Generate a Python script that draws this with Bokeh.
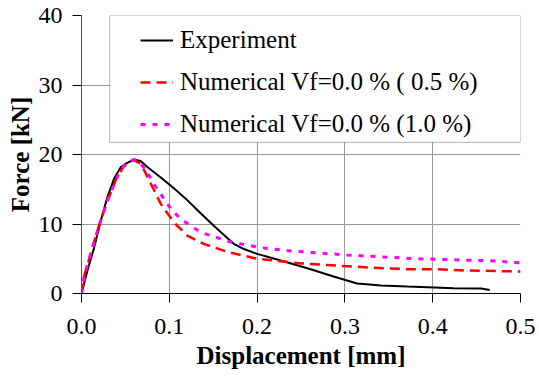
from bokeh.plotting import figure
from bokeh.models import Range1d, FixedTicker, PrintfTickFormatter, BoxAnnotation
from bokeh.embed import file_html
from bokeh.resources import INLINE

# Data
exp_x = [0, 0.0068, 0.0144, 0.022, 0.0296, 0.037, 0.0448, 0.052, 0.06, 0.0675, 0.075,
         0.0903, 0.1055, 0.1207, 0.136, 0.151, 0.166, 0.174, 0.185, 0.2, 0.231, 0.261,
         0.288, 0.314, 0.341, 0.371, 0.402, 0.424, 0.455, 0.465]
exp_f = [0, 3.3, 6.6, 10.5, 13.9, 16.5, 18.2, 18.8, 19.25, 19.05, 18.2,
         16.7, 15.1, 13.4, 11.5, 9.7, 8.0, 7.1, 6.4, 5.7, 4.6, 3.5,
         2.4, 1.45, 1.15, 1.0, 0.87, 0.75, 0.72, 0.5]

num05_x = [0, 0.003, 0.01, 0.02, 0.03, 0.04, 0.048, 0.055, 0.0595, 0.0675, 0.079,
           0.0903, 0.098, 0.107, 0.121, 0.14, 0.166, 0.2, 0.25, 0.28, 0.326, 0.371,
           0.402, 0.44, 0.5]
num05_f = [0, 2.5, 5.5, 9.8, 13.5, 16.6, 18.3, 19.0, 19.2, 18.7, 15.8,
           12.9, 11.5, 10.0, 8.3, 7.1, 6.0, 5.0, 4.33, 4.1, 3.75, 3.5,
           3.5, 3.3, 3.17]

num10_x = [0, 0.003, 0.01, 0.02, 0.03, 0.04, 0.048, 0.055, 0.06, 0.0733, 0.081,
           0.0903, 0.1017, 0.113, 0.136, 0.17, 0.204, 0.236, 0.269, 0.303, 0.337,
           0.383, 0.432, 0.466, 0.5]
num10_f = [0, 2.5, 5.5, 9.8, 13.5, 16.6, 18.3, 19.0, 19.3, 17.95, 16.0,
           14.3, 12.2, 10.7, 8.8, 7.4, 6.6, 6.16, 5.83, 5.54, 5.3,
           5.0, 4.82, 4.72, 4.4]

x_ticks = [0.0, 0.1, 0.2, 0.3, 0.4, 0.5]
y_ticks = [0, 10, 20, 30, 40]

labels = ["Experiment", "Numerical Vf=0.0 % ( 0.5 %)", "Numerical Vf=0.0 % (1.0 %)"]

FONT = "Times New Roman"

p = figure(width=539, height=387, output_backend="svg", toolbar_location=None,
           x_range=Range1d(0, 0.5), y_range=Range1d(0, 40),
           min_border_left=81, min_border_right=19, min_border_top=15,
           min_border_bottom=94)
p.outline_line_color = None

# Legend frame (white box with black border)
frame = BoxAnnotation(left=0.0322, right=0.5, top=40, bottom=21.75,
                      fill_color="white", fill_alpha=1.0,
                      line_color="black", line_width=1)
p.add_layout(frame)

p.line(exp_x, exp_f, line_color="black", line_width=2, legend_label=labels[0])
p.line(num05_x, num05_f, line_color="#FF0000", line_width=2.5, line_dash="10 6",
       legend_label=labels[1])
p.line(num10_x, num10_f, line_color="#FF00FF", line_width=3, line_dash="5 7",
       legend_label=labels[2])

p.legend.location = (54, 149)
p.legend.border_line_alpha = 0
p.legend.background_fill_alpha = 0
p.legend.padding = 5
p.legend.margin = 0
p.legend.glyph_width = 33
p.legend.glyph_height = 30
p.legend.label_height = 30
p.legend.label_standoff = 7
p.legend.spacing = 12
p.legend.label_text_font = FONT
p.legend.label_text_font_size = "25px"
p.legend.label_text_color = "black"

# Axes
p.axis.major_label_text_font = FONT
p.axis.major_label_text_font_size = "24px"
p.axis.major_label_text_color = "black"
p.axis.axis_label_text_font = FONT
p.axis.axis_label_text_font_size = "25px"
p.axis.axis_label_text_font_style = "bold"
p.axis.axis_label_text_color = "black"
p.axis.major_tick_out = 9
p.axis.major_tick_in = 0
p.axis.minor_tick_out = 0
p.axis.minor_tick_in = 0
p.axis.major_tick_line_color = "black"
p.axis.axis_line_color = "black"

p.xaxis.ticker = FixedTicker(ticks=x_ticks)
p.yaxis.ticker = FixedTicker(ticks=y_ticks)
p.xaxis.formatter = PrintfTickFormatter(format="%.1f")
p.xaxis.axis_label = "Displacement [mm]"
p.yaxis.axis_label = "Force [kN]"
p.xaxis.major_label_standoff = 16
p.yaxis.major_label_standoff = 10
p.xaxis.axis_label_standoff = 5
p.yaxis.axis_label_standoff = 2
p.yaxis.axis_line_color = "#555555"

p.xgrid.grid_line_color = "#999999"
p.ygrid.grid_line_color = "#999999"

open("out.html", "w").write(file_html(p, INLINE))
